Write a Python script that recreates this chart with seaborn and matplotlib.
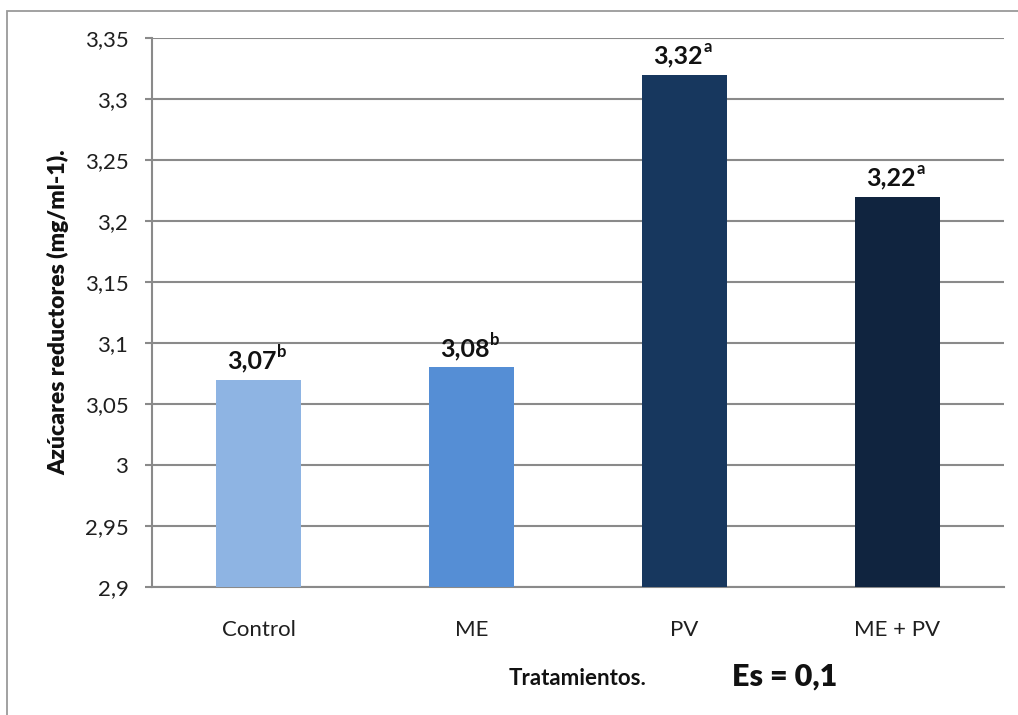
import matplotlib
matplotlib.use("Agg")
import matplotlib.pyplot as plt
import matplotlib.patches as mpatches
import seaborn as sns
import pandas as pd

treatments = ["Control", "ME", "PV", "ME + PV"]
sugar_values = [3.07, 3.08, 3.32, 3.22]
value_labels = ["3,07", "3,08", "3,32", "3,22"]
letters = ["b", "b", "a", "a"]
bar_colors = ["#8EB4E3", "#558ED5", "#17375E", "#10243F"]
y_ticks = [2.9, 2.95, 3.0, 3.05, 3.1, 3.15, 3.2, 3.25, 3.3, 3.35]
y_tick_labels = ["2,9", "2,95", "3", "3,05", "3,1", "3,15", "3,2", "3,25", "3,3", "3,35"]

sns.set_style("white")
plt.rcParams["font.family"] = ["Lato", "DejaVu Sans"]

df = pd.DataFrame({"Tratamiento": treatments, "Valor": sugar_values})

fig = plt.figure(figsize=(10.18, 7.15), dpi=100)
ax = fig.add_axes([152 / 1018, 128 / 715, 852 / 1018, 549 / 715])

sns.barplot(data=df, x="Tratamiento", y="Valor", hue="Tratamiento",
            palette=bar_colors, width=0.4, legend=False, ax=ax,
            saturation=1, linewidth=0, zorder=3)

ax.set_ylim(2.9, 3.35)
ax.set_xlim(-0.5, 3.5)
ax.set_yticks(y_ticks)
ax.set_yticklabels(y_tick_labels)
ax.grid(axis="y", color="#8A8A8A", linewidth=1.5, zorder=0)
ax.grid(axis="x", visible=False)
ax.set_axisbelow(True)

for side in ["top", "right"]:
    ax.spines[side].set_visible(False)
for side in ["left", "bottom"]:
    ax.spines[side].set_color("#8A8A8A")
    ax.spines[side].set_linewidth(1.5)

ax.tick_params(axis="y", length=5, width=1.5, color="#8A8A8A",
               labelsize=16, labelcolor="#1F1F1F", pad=12, left=True)
ax.tick_params(axis="x", length=0, labelsize=16, labelcolor="#1F1F1F", pad=24)

ax.set_ylabel("Azúcares reductores (mg/ml-1).", fontsize=16.5,
              fontweight="heavy", labelpad=11, color="#111111")
ax.set_xlabel("Tratamientos.", fontsize=16, fontweight="bold",
              labelpad=20, color="#111111")

# value labels with significance letters
for i, (v, lab, let) in enumerate(zip(sugar_values, value_labels, letters)):
    ax.annotate(lab, xy=(i, v), xytext=(13, 5), textcoords="offset points",
                ha="right", va="bottom", fontsize=18, fontweight="bold",
                color="#111111")
    ax.annotate(let, xy=(i, v), xytext=(13.5, 14), textcoords="offset points",
                ha="left", va="bottom", fontsize=12, fontweight="bold",
                color="#111111")

fig.text(785 / 1018, 1 - 677 / 715, "Es = 0,1", fontsize=22,
         fontweight="heavy", ha="center", va="center", color="#111111")

# outer chart frame
frame = mpatches.Rectangle((7 / 1018, -0.2), 1.2, 1.2 - 11 / 715,
                           transform=fig.transFigure, fill=False,
                           edgecolor="#9A9A9A", linewidth=1.3)
fig.patches.append(frame)

fig.savefig("out.png", dpi=100, facecolor="white")
